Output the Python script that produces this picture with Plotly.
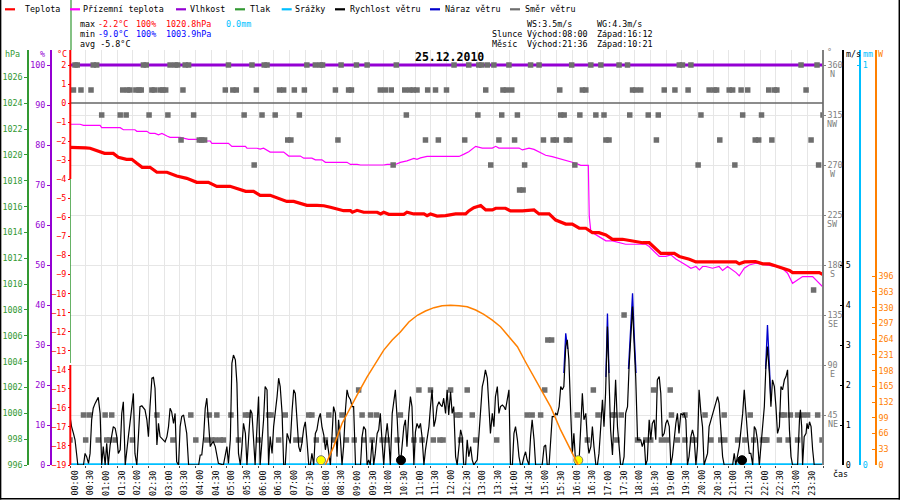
import plotly.graph_objects as go

# ---------------- data (time in hours of 25.12.2010) ----------------
temp_pts = [(0.0,-2.32),(0.3,-2.32),(0.5,-2.35),(0.64,-2.37),(0.96,-2.55),(1.1,-2.64),(1.38,-2.64),(1.54,-2.84),
    (1.8,-2.95),(1.97,-2.95),(2.13,-3.16),(2.3,-3.37),(2.55,-3.37),(2.77,-3.63),(3.09,-3.63),(3.4,-3.83),(3.72,-3.95),
    (4.04,-4.16),(4.41,-4.16),(4.68,-4.37),(5.1,-4.37),(5.35,-4.5),(5.6,-4.63),(5.85,-4.63),(6.06,-4.84),(6.38,-4.84),
    (6.54,-4.95),(6.91,-5.16),(7.13,-5.16),(7.34,-5.26),(7.55,-5.37),(7.87,-5.37),(8.09,-5.39),(8.3,-5.47),(8.51,-5.56),
    (8.72,-5.65),(8.94,-5.65),(9.0,-5.73),(9.15,-5.63),(9.36,-5.73),(9.79,-5.73),(9.9,-5.82),(10.0,-5.73),(10.16,-5.84),
    (10.64,-5.84),(10.74,-5.73),(10.96,-5.82),(11.28,-5.82),(11.38,-5.91),(11.49,-5.82),(11.7,-5.93),(11.97,-5.91),
    (12.29,-5.82),(12.61,-5.82),(12.71,-5.66),(12.87,-5.49),(13.09,-5.38),(13.25,-5.61),(13.46,-5.61),(13.57,-5.52),
    (13.88,-5.52),(14.04,-5.66),(14.42,-5.66),(14.63,-5.61),(14.79,-5.61),(14.95,-5.82),(15.27,-5.82),(15.48,-6.14),
    (15.8,-6.35),(16.01,-6.35),(16.23,-6.57),(16.44,-6.57),(16.65,-6.8),(16.86,-6.8),(17.08,-6.92),(17.29,-7.15),
    (17.61,-7.15),(17.93,-7.24),(18.25,-7.33),(18.46,-7.33),(18.67,-7.66),(18.83,-7.89),(19.26,-7.89),(19.42,-8.05),
    (19.74,-8.2),(19.95,-8.34),(21.23,-8.34),(21.33,-8.44),(21.5,-8.34),(21.65,-8.34),(21.85,-8.32),(22.08,-8.44),
    (22.29,-8.44),(22.5,-8.55),(22.71,-8.67),(22.93,-8.79),(23.03,-8.9),(23.88,-8.9),(24.0,-9.0)]

ground_pts = [(0.0,-1.11),(0.32,-1.11),(0.43,-1.17),(0.96,-1.17),(1.01,-1.29),(1.6,-1.29),(1.7,-1.4),(2.07,-1.4),
    (2.13,-1.48),(2.45,-1.48),(2.55,-1.59),(2.71,-1.59),(2.82,-1.67),(2.93,-1.59),(3.09,-1.73),(3.19,-1.8),(3.51,-1.8),
    (3.78,-1.9),(4.04,-1.9),(4.26,-1.99),(4.47,-1.99),(4.52,-2.11),(5.05,-2.11),(5.16,-2.27),(5.59,-2.27),(5.64,-2.37),
    (5.96,-2.37),(6.06,-2.42),(6.17,-2.37),(6.38,-2.57),(6.81,-2.57),(6.97,-2.78),(7.34,-2.78),(7.45,-2.89),(7.71,-2.89),
    (7.82,-2.98),(8.03,-2.98),(8.14,-3.11),(8.83,-3.11),(8.94,-3.22),(9.15,-3.22),(9.26,-3.25),(10.0,-3.25),(10.11,-3.22),
    (10.37,-3.22),(10.53,-3.11),(10.74,-3.03),(10.96,-2.9),(11.06,-2.95),(11.17,-2.88),(11.38,-2.8),(12.4,-2.8),
    (12.56,-2.68),(12.71,-2.55),(12.93,-2.27),(13.14,-2.36),(13.46,-2.36),(13.57,-2.27),(13.67,-2.36),(14.31,-2.36),
    (14.42,-2.46),(14.63,-2.37),(14.79,-2.43),(15.0,-2.6),(15.16,-2.74),(15.37,-2.81),(15.64,-2.93),(15.91,-3.06),
    (16.12,-3.16),(16.28,-3.27),(16.52,-3.27),(16.55,-5.95),(16.6,-6.75),(16.86,-7.01),(17.08,-7.23),(17.29,-7.23),
    (17.5,-7.32),(17.71,-7.41),(18.35,-7.41),(18.46,-7.53),(18.62,-7.79),(18.78,-8.05),(18.99,-8.05),(19.15,-7.97),
    (19.31,-8.18),(19.47,-8.32),(19.63,-8.5),(19.79,-8.67),(19.95,-8.58),(20.06,-8.76),(20.16,-8.58),(20.27,-8.58),
    (20.48,-8.67),(20.69,-8.58),(20.8,-8.79),(20.96,-8.58),(21.12,-8.76),(21.23,-8.9),(21.33,-9.07),(21.49,-8.67),
    (21.65,-8.5),(21.86,-8.41),(22.18,-8.5),(22.5,-8.58),(22.71,-8.69),(22.87,-8.93),(23.03,-9.46),(23.19,-9.28),
    (23.35,-9.11),(23.67,-9.11),(23.83,-9.37),(23.99,-9.64)]

hum_t = [0.0, 24.0]
hum_v = [100, 100]
rain_t = [0.0, 24.0]
rain_v = [0.0, 0.0]
press_t = [0.0, 0.0]          # pressure only appears as a vertical stroke at midnight
press_v = [1003.9, 1020.8]

wind_pts = [(0.0,1.21),(0.05,0.96),(0.11,0.79),(0.16,0.63),(0.25,0),(0.43,0),(0.48,0.29),(0.53,0.21),(0.59,0.04),
    (0.64,0.29),(0.69,1.13),(0.74,1.42),(0.8,1.54),(0.85,1.63),(0.9,1.69),(0.96,1.29),(1.01,0),(1.06,0.46),(1.12,0),
    (1.17,0.54),(1.22,0),(1.28,0.5),(1.33,0.79),(1.38,0.96),(1.44,0.92),(1.49,0.71),(1.54,0.29),(1.6,0.38),(1.65,1.29),
    (1.7,1.58),(1.76,0),(1.81,0.29),(1.86,0.71),(1.91,1.04),(1.97,1.54),(2.02,1.79),(2.07,0.29),(2.13,0),(2.18,0.71),
    (2.23,1.46),(2.29,1.48),(2.39,1.38),(2.45,1.13),(2.5,0.71),(2.55,1.46),(2.61,2.17),(2.66,2.19),(2.71,1.92),(2.77,0.5),
    (2.82,1.04),(2.87,0.71),(2.98,0.63),(3.03,0.58),(3.09,0.71),(3.14,0.96),(3.19,1.42),(3.24,1.33),(3.3,1.04),(3.35,1.29),
    (3.4,0.08),(3.46,0),(3.51,0.96),(3.56,1.21),(3.62,1.25),(3.67,1.04),(3.72,0.79),(3.78,0),(4.1,0),(4.15,0.25),
    (4.2,0.25),(4.26,0.71),(4.31,1.42),(4.36,1.67),(4.41,1.13),(4.47,0.46),(4.52,0.54),(4.57,0.58),(4.63,0.46),
    (4.68,0.29),(4.73,0.04),(4.89,0),(4.95,0.25),(5.0,0.46),(5.05,0.04),(5.11,0.63),(5.16,2.54),(5.21,2.75),(5.27,2.63),
    (5.32,2.04),(5.37,0.29),(5.43,0),(5.48,0.46),(5.53,1.04),(5.59,0.79),(5.64,0),(5.69,0.63),
    (5.75,1.38),(5.8,1.29),(5.85,0.63),(5.9,0),(5.96,0.96),(6.01,1.71),(6.06,0),(6.17,1.13),(6.22,1.96),(6.28,1.88),
    (6.33,0),(6.38,0.71),(6.44,0.29),(6.49,0.96),(6.6,1.71),(6.65,2.17),(6.7,1.96),(6.76,1.29),(6.81,0),(6.86,0),
    (6.92,0.79),(6.97,0.63),(7.02,0.54),(7.08,1.38),(7.13,1.88),(7.18,1.79),(7.23,1.21),(7.29,0.46),(7.34,0.33),
    (7.39,0.54),(7.45,0.92),(7.5,1.08),(7.55,0.63),(7.61,0),(7.66,0),(7.71,0.29),(7.77,0),(7.82,0.79),(7.87,0.88),
    (7.93,1.17),(7.98,1.29),(8.03,0.96),(8.09,0.75),(8.14,0.38),(8.19,0.63),(8.25,0.29),(8.3,0),(8.35,0.71),(8.4,1.46),
    (8.46,1.29),(8.51,0.21),(8.56,1.13),(8.62,0.63),(8.67,0),(8.72,0.46),(8.78,1.38),(8.83,1.88),(8.88,1.71),(8.94,1.63),
    (8.99,1.46),(9.04,1.46),(9.1,0),(9.26,0),(9.31,0.71),(9.36,0.96),(9.42,0.88),(9.47,0),(9.52,0.13),(9.57,0),
    (9.63,0.63),(9.68,0),(9.73,0.29),(9.79,0.79),(9.84,0.88),(9.89,1.29),(9.95,0.54),(10.0,0),(10.05,0.63),(10.11,1.04),
    (10.16,0.63),(10.21,0),(10.27,1.29),(10.32,1.63),(10.37,1.88),(10.43,1.13),(10.48,0.29),(10.53,0),(10.59,0.46),
    (10.64,0.96),(10.69,1.13),(10.74,0.46),(10.8,1.29),(10.85,1.71),(10.9,1.46),(10.96,0),(11.01,0.83),(11.06,1.04),
    (11.12,0.92),(11.17,1.04),(11.22,0.71),(11.28,0),(11.33,0.38),(11.38,0.71),(11.44,0.96),(11.49,1.46),(11.54,1.88),
    (11.6,0.96),(11.65,1.13),(11.7,1.46),(11.76,1.58),(11.81,1.5),(11.86,1.46),(11.91,1.67),(11.97,1.29),(12.02,1.88),
    (12.07,1.25),(12.13,1.83),(12.18,1.29),(12.23,1.46),(12.29,0.21),(12.34,0),(12.39,0.46),(12.45,0.88),(12.5,0.71),
    (12.55,0),(12.61,0),(12.66,0.63),(12.71,0.21),(12.77,0.46),(12.82,0.13),(12.87,0),(12.98,0.13),(13.03,0.79),
    (13.09,1.46),(13.14,1.96),(13.19,2.13),(13.24,2.38),(13.3,2.17),(13.35,1.29),(13.4,0.79),(13.46,1.29),(13.51,0.96),
    (13.56,1.71),(13.62,1.96),(13.67,1.29),(13.72,1.46),(13.78,1.5),(13.83,1.46),(13.88,1.38),(13.94,1.71),(13.99,1.88),
    (14.04,0),(14.1,0),(14.15,0.79),(14.2,0.96),(14.26,0.63),(14.31,0.21),(14.36,0),(14.41,0),(14.47,0.21),(14.52,0.33),
    (14.57,0.13),(14.63,0),(14.68,0.71),(14.73,1.13),(14.79,0.63),(14.84,0),(15.05,0),
    (15.11,0.46),(15.16,0.5),(15.21,0),(15.27,0),(15.32,0.63),(15.37,1.21),(15.43,1.21),(15.48,1.29),(15.53,1.25),
    (15.59,1.46),(15.64,1.96),(15.69,1.88),(15.74,1.96),(15.8,2.96),(15.85,3.13),(15.9,2.63),(15.96,1.29),(16.01,0.29),
    (16.06,0.79),(16.12,0),(16.22,0),(16.28,1.13),(16.33,1.79),(16.38,1.13),(16.44,1.29),(16.49,0.63),(16.54,0.29),
    (16.6,0.46),(16.65,0.96),(16.7,0.46),(16.76,0),(16.81,0),(16.86,0.29),(16.91,0.88),(16.97,1.63),(17.02,0.96),
    (17.07,1.79),(17.13,3.46),(17.18,2.13),(17.23,0.88),(17.29,0.25),(17.34,1.13),(17.39,2.13),(17.45,0.96),(17.5,0.46),
    (17.55,0),(17.61,0),(17.66,0.21),(17.71,1.29),(17.77,1.46),(17.82,2.46),(17.87,3.04),(17.93,3.96),(17.98,3.04),
    (18.03,2.21),(18.09,0.63),(18.19,0.63),(18.24,0.46),(18.3,0.63),(18.35,0),(18.4,0.13),(18.46,1.13),(18.51,0.63),
    (18.56,1.04),(18.62,1.13),(18.67,0.63),(18.72,2.13),(18.78,2.21),(18.83,1.79),(18.88,0.71),(18.94,0.79),(18.99,1.04),
    (19.04,1.13),(19.1,0.96),(19.15,0),(19.2,0.21),(19.26,0.71),(19.31,1.04),(19.36,1.29),(19.41,0.79),(19.47,1.29),
    (19.52,1.25),(19.57,1.29),(19.63,1.13),(19.68,0),(19.73,0.21),(19.79,0.71),(19.84,0.88),(19.89,0.71),(19.95,0),
    (20.0,0.46),(20.05,1.88),(20.11,1.29),(20.16,0.96),(20.21,0),(20.27,0.13),(20.32,0.29),(20.37,0.96),(20.43,1.13),
    (20.48,1.29),(20.53,1.46),(20.59,1.63),(20.64,1.71),(20.69,1.54),(20.74,0.79),(20.8,0.21),(20.85,0),(21.12,0),
    (21.17,0.29),(21.22,0),(21.33,0.46),(21.38,0.79),(21.44,1.29),(21.49,1.88),(21.54,1.29),(21.6,0.71),(21.65,0.29),
    (21.7,0.29),(21.76,0),(21.81,0.96),(21.86,0.88),(21.91,0.63),(21.97,0),(22.02,0.46),(22.07,1.04),(22.13,1.46),
    (22.18,2.46),(22.23,2.96),(22.29,2.29),(22.34,1.46),(22.39,2.13),(22.45,1.96),(22.5,1.46),(22.55,0.79),(22.61,0.96),
    (22.66,1.96),(22.71,1.88),(22.77,2.13),(22.82,2.21),(22.87,2.38),(22.93,0.88),(22.98,0.21),(23.03,0),(23.19,0),
    (23.25,1.13),(23.28,1.38),(23.32,0.96),(23.35,0),(23.4,0.71),(23.46,0.79),(23.49,1.04),(23.53,0.9),(23.57,1.08),
    (23.62,0.96),(23.67,0.38),(23.72,0),(24.0,0)]

gust_t = [15.74, 15.8, 15.86, None, 17.08, 17.13, 17.18, None, 17.8, 17.87, 17.93, 17.98, 18.04, None,
          22.17, 22.23, 22.29, 22.34]
gust_v = [2.3, 3.29, 2.9, None, 2.2, 3.79, 2.3, None, 2.4, 3.6, 4.29, 3.3, 2.3, None,
          2.4, 3.5, 2.5, 1.6]

solar_t = [8.14, 8.4, 8.67, 8.94, 9.2, 9.47, 9.73, 10.0, 10.27, 10.53, 10.8, 11.07, 11.33, 11.6, 11.86, 12.13,
           12.4, 12.66, 12.93, 13.19, 13.46, 13.72, 13.99, 14.26, 14.52, 14.79, 15.06, 15.32, 15.64, 15.96, 16.12, 16.2]
solar_v = [0, 38, 87, 122, 153, 185, 213, 241, 262, 279, 300, 314, 323, 330, 334, 335,
           334, 332, 325, 316, 304, 290, 269, 248, 216, 185, 153, 122, 73, 31, 10, 0]

# wind direction samples, grouped by direction (degrees) -> times (h)
wd_360 = [0.16, 0.23, 0.74, 0.85, 2.34, 2.43, 3.19, 3.35, 3.43, 3.67, 3.78, 5.05, 5.8, 6.19, 6.28, 7.55, 7.82,
          7.98, 8.05, 8.64, 9.13, 9.47, 10.4, 12.24, 12.71, 13.03, 13.12, 13.3, 13.51, 13.99, 14.68, 14.95, 15.99,
          16.6, 16.92, 17.5, 17.77, 19.42, 19.52, 19.79, 23.3, 23.81]
wd_337 = [0.11, 0.35, 0.67, 1.68, 1.83, 1.91, 2.1, 2.2, 2.27, 2.61, 2.69, 2.87, 2.96, 3.05, 3.6, 4.95, 5.19, 5.3,
          5.94, 6.68, 6.81, 7.15, 7.47, 8.46, 8.88, 8.97, 9.89, 10.05, 10.24, 10.67, 10.83, 10.94, 11.06, 11.4,
          11.65, 12.0, 13.25, 13.8, 13.91, 14.08, 15.61, 16.33, 16.44, 17.93, 18.03, 18.19, 18.94, 19.28, 19.7,
          20.37, 20.53, 20.61, 21.01, 21.12, 21.39, 21.6, 22.27, 22.45, 22.53, 23.46]
wd_315 = [1.01, 1.6, 1.79, 2.52, 3.12, 3.94, 5.55, 6.12, 6.54, 7.31, 10.72, 13.0, 13.76, 14.26, 15.64, 15.75,
          16.25, 16.76, 17.02, 17.84, 18.43, 18.75, 20.11, 21.44, 22.04, 24.0]
wd_292 = [3.54, 4.12, 4.2, 4.29, 6.94, 7.04, 8.54, 11.33, 11.74, 12.58, 13.67, 14.17, 15.09, 15.4, 15.5, 15.82,
          15.93, 17.08, 17.18, 18.69, 20.71, 21.84, 21.95, 22.37, 23.62]
wd_270 = [5.87, 10.3, 13.41, 14.49, 16.09, 20.02, 21.19, 23.86]
wd_247 = [14.33, 14.44]
wd_157 = [23.7]
wd_135 = [17.66]
wd_112 = [15.23, 15.35]
wd_67 = [9.2, 11.12, 11.49, 12.13, 12.66, 15.13, 16.68, 18.6, 19.13]
wd_45 = [0.43, 0.61, 1.12, 1.33, 2.77, 3.85, 4.44, 4.68, 5.13, 5.59, 5.69, 6.33, 6.41, 6.86, 7.61, 7.71, 8.25,
         8.67, 9.31, 9.58, 9.77, 10.53, 12.34, 12.43, 12.82, 14.57, 14.73, 15.0, 16.17, 16.83, 17.29, 17.36, 17.57,
         19.17, 19.6, 20.24, 20.85, 21.68, 22.68, 22.77, 22.96, 23.19, 23.35, 23.51, 23.83]
wd_22 = [0.0, 0.5, 0.9, 1.17, 1.26, 1.44, 1.99, 3.28, 4.01, 4.36, 4.52, 4.63, 4.79, 4.89, 5.37, 6.01, 6.65, 7.2,
         7.34, 7.85, 8.14, 8.4, 8.81, 9.06, 9.36, 9.63, 9.95, 10.11, 10.43, 10.96, 11.22, 11.58, 11.79, 11.89, 12.45,
         12.93, 13.6, 16.49, 17.43, 18.09, 18.35, 18.51, 18.85, 19.02, 19.36, 19.6, 19.84, 19.91, 20.43, 20.74,
         20.87, 21.28, 21.51, 21.79, 22.07, 22.15, 22.21, 22.61, 22.89, 23.19, 23.97]

sun_t = [8.0, 16.2]        # sunrise / sunset markers
moon_t = [10.55, 21.42]    # moon markers
marker_level = [0.12, 0.12]

time_labels = ["00:00","00:30","01:00","01:30","02:00","02:30","03:00","03:30","04:00","04:30","05:00","05:30",
               "06:00","06:30","07:00","07:30","08:00","08:30","09:00","09:30","10:00","10:30","11:00","11:30",
               "12:00","12:30","13:00","13:30","14:00","14:30","15:00","15:30","16:00","16:30","17:00","17:30",
               "18:00","18:30","19:00","19:30","20:00","20:30","21:00","21:30","22:00","22:30","23:00","23:30"]
time_ticks = [0.0,0.5,1.0,1.5,2.0,2.5,3.0,3.5,4.0,4.5,5.0,5.5,6.0,6.5,7.0,7.5,8.0,8.5,9.0,9.5,10.0,10.5,11.0,11.5,
              12.0,12.5,13.0,13.5,14.0,14.5,15.0,15.5,16.0,16.5,17.0,17.5,18.0,18.5,19.0,19.5,20.0,20.5,21.0,21.5,
              22.0,22.5,23.0,23.5,24.0]
temp_ticks = [2,1,0,-1,-2,-3,-4,-5,-6,-7,-8,-9,-10,-11,-12,-13,-14,-15,-16,-17,-18,-19]
hum_ticks = [0,10,20,30,40,50,60,70,80,90,100]
press_ticks = [996,998,1000,1002,1004,1006,1008,1010,1012,1014,1016,1018,1020,1022,1024,1026]
dir_ticks = [45,90,135,180,225,270,315,360]
dir_names = ["NE","E","SE","S","SW","W","NW","N"]
ms_ticks = [0,1,2,3,4,5]
mm_ticks = [0,1]
w_ticks = [0,33,66,99,132,165,198,231,264,297,330,363,396]

# ---------------- styling / geometry ----------------
MONO = "DejaVu Sans Mono"
FS = 8.4
RED = "#FF0000"; MAG = "#FF00FF"; PUR = "#9400D3"; GRN = "#339933"; CYAN = "#00BFFF"
BLUE = "#0000CC"; GREY = "#6E6E6E"; ORANGE = "#FF8000"; GRID = "#E6E6E6"

WIDTH, HEIGHT = 900, 500
ML, MR, MT, MB = 28, 24, 50, 35
AW = WIDTH - ML - MR
AH = HEIGHT - MT - MB

def pxx(px):
    return (px - ML) / AW

def pxy(py):
    return (HEIGHT - MB - py) / AH

X0, X1 = pxx(70), pxx(823)
T_PPU = 19.05; H_PPU = 4.0; P_PPU = 12.92; D_PPU = 50 / 45; MS_PPU = 40; MM_PPU = 400; W_PPU = 0.4768

def unzip(pts):
    return [p[0] for p in pts], [p[1] for p in pts]

temp_t, temp_v = unzip(temp_pts)
ground_t, ground_v = unzip(ground_pts)
wind_t, wind_v = unzip(wind_pts)

fig = go.Figure()

fig.add_trace(go.Scatter(x=ground_t, y=ground_v, mode="lines", line=dict(color=MAG, width=1.2), yaxis="y"))
fig.add_trace(go.Scatter(x=temp_t, y=temp_v, mode="lines", line=dict(color=RED, width=3.2), yaxis="y"))
fig.add_trace(go.Scatter(x=hum_t, y=hum_v, mode="lines", line=dict(color=PUR, width=3), yaxis="y2"))
fig.add_trace(go.Scatter(x=press_t, y=press_v, mode="lines", line=dict(color=GRN, width=1.5), yaxis="y3",
                         cliponaxis=False))
dir_groups = [(360, wd_360), (337.5, wd_337), (315, wd_315), (292.5, wd_292), (270, wd_270), (247.5, wd_247),
              (157.5, wd_157), (135, wd_135), (112.5, wd_112), (67.5, wd_67), (45, wd_45), (22.5, wd_22)]
dx, dy = [], []
for deg, times in dir_groups:
    dx += times
    dy += [deg] * len(times)
fig.add_trace(go.Scatter(x=dx, y=dy, mode="markers", yaxis="y4",
                         marker=dict(symbol="square", size=5.5, color=GREY, line=dict(width=0))))
fig.add_trace(go.Scatter(x=rain_t, y=rain_v, mode="lines", line=dict(color=CYAN, width=3.5), yaxis="y5"))
fig.add_trace(go.Scatter(x=gust_t, y=gust_v, mode="lines", line=dict(color=BLUE, width=1.3), yaxis="y6",
                         connectgaps=False))
fig.add_trace(go.Scatter(x=wind_t, y=wind_v, mode="lines", line=dict(color="black", width=1.2), yaxis="y6"))
fig.add_trace(go.Scatter(x=sun_t, y=marker_level, mode="markers", yaxis="y6",
                         marker=dict(size=9, color="#FFFF00", line=dict(color="#777777", width=1))))
fig.add_trace(go.Scatter(x=moon_t, y=marker_level, mode="markers", yaxis="y6",
                         marker=dict(size=9, color="black", line=dict(color="black", width=1))))
fig.add_trace(go.Scatter(x=solar_t, y=solar_v, mode="lines", line=dict(color=ORANGE, width=1.5), yaxis="y7"))

tickfont = lambda c: dict(family=MONO, size=FS, color=c)

def left_axis(rng, ticks, color, pos, ticklen, overlay=True, showline=True):
    d = dict(range=rng, tickvals=ticks, tickfont=tickfont(color), anchor="free", position=pos, side="left",
             showgrid=False, zeroline=False, ticks="outside", ticklen=ticklen, tickcolor=color,
             showline=showline, linecolor=color, linewidth=1.5, automargin=False)
    if overlay:
        d["overlaying"] = "y"
    else:
        d["domain"] = [0, 1]
    return d

def right_axis(rng, ticks, color, pos, text=None, grid=False, ticks_dir="inside", ticklen=3):
    d = dict(range=rng, tickvals=ticks, tickfont=tickfont(color), anchor="free", position=pos, side="right",
             overlaying="y", showgrid=grid, gridcolor=GRID, gridwidth=1, zeroline=False,
             ticks=ticks_dir, ticklen=ticklen, tickcolor=color, showline=True, linecolor=color, linewidth=1.5,
             automargin=False)
    if text is not None:
        d["ticktext"] = text
    return d

fig.update_layout(
    width=WIDTH, height=HEIGHT, autosize=False,
    margin=dict(l=ML, r=MR, t=MT, b=MB, pad=0, autoexpand=False),
    paper_bgcolor="white", plot_bgcolor="white", showlegend=False, hovermode=False,
    xaxis=dict(domain=[X0, X1], range=[0, 24], tickvals=time_ticks, showticklabels=False, showgrid=True,
               gridcolor=GRID, gridwidth=1, zeroline=False, ticks="outside", ticklen=2, tickcolor="#444",
               showline=False, anchor="y", automargin=False),
    yaxis=left_axis([-19, 2 + 15 / T_PPU], temp_ticks, RED, X0, 2, overlay=False, showline=False),
    yaxis2=left_axis([0, 100 + 15 / H_PPU], hum_ticks, PUR, pxx(50.7), 3),
    yaxis3=left_axis([996, 996 + AH / P_PPU], press_ticks, GRN, 0.0, 3),
    yaxis4=right_axis([0, 360 + 15 / D_PPU], dir_ticks, "#808080", X1, text=[str(v) for v in dir_ticks],
                      grid=True, ticks_dir="outside", ticklen=2),
    yaxis5=right_axis([0, AH / MM_PPU], mm_ticks, CYAN, pxx(860.3)),
    yaxis6=right_axis([0, AH / MS_PPU], ms_ticks, "black", pxx(843.3)),
    yaxis7=right_axis([0, AH / W_PPU], w_ticks, ORANGE, 1.0),
)

shapes = []
def pline(x0, y0, x1, y1, color, width):
    shapes.append(dict(type="line", xref="paper", yref="paper", x0=pxx(x0), y0=pxy(y0), x1=pxx(x1), y1=pxy(y1),
                       line=dict(color=color, width=width), layer="above"))

# 0 degC line
shapes.append(dict(type="line", xref="x", yref="y", x0=0, x1=24, y0=0, y1=0,
                   line=dict(color="#666666", width=1.5), layer="above"))
# temperature axis line (red), partly hidden by the green pressure stroke
pline(71, 0, 71, 50, GRN, 1.2)
pline(70.3, 50, 70.3, 179, RED, 2)
pline(70.3, 365, 70.3, 465, RED, 2)
# outer border
pline(0.6, 0, 0.6, 499.5, "black", 1.5)
pline(899.3, 0, 899.3, 499.5, "black", 1.5)
pline(0, 498.8, 900, 498.8, "black", 1.5)

ann = []
def txt(s, px, py, color="black", anchor="left", size=FS, bold=False, angle=0):
    ann.append(dict(text=(f"<b>{s}</b>" if bold else s), x=pxx(px), y=pxy(py), xref="paper", yref="paper",
                    xanchor=anchor, yanchor="middle", showarrow=False, borderpad=0, borderwidth=0,
                    textangle=angle, font=dict(family=MONO, size=size, color=color)))

legend = [("Teplota", RED, 5, 25), ("Přízemní teplota", MAG, 70, 83.3), ("Vlhkost", PUR, 176, 190),
          ("Tlak", GRN, 235, 250), ("Srážky", CYAN, 281.7, 295), ("Rychlost větru", "black", 335, 350),
          ("Náraz větru", BLUE, 430, 445), ("Směr větru", GREY, 510, 525)]
for name, col, dash_x, text_x in legend:
    pline(dash_x, 9.3, dash_x + 10, 9.3, col, 2.2)
    txt(name, text_x, 9.5)

txt("max", 80, 24.3); txt("-2.2°C", 97.5, 24.3, RED); txt("100%", 136, 24.3, RED)
txt("1020.8hPa", 166, 24.3, RED); txt("0.0mm", 226, 24.3, CYAN)
txt("min", 80, 34.3); txt("-9.0°C", 97.5, 34.3, "#0000FF"); txt("100%", 136, 34.3, "#0000FF")
txt("1003.9hPa", 166, 34.3, "#0000FF")
txt("avg -5.8°C", 80, 44)
txt("WS:3.5m/s", 526.7, 24.3); txt("WG:4.3m/s", 596.7, 24.3)
txt("Slunce", 491.7, 34.3); txt("Východ:08:00", 526.7, 34.3); txt("Západ:16:12", 596.7, 34.3)
txt("Měsíc", 491.7, 44); txt("Východ:21:36", 526.7, 44); txt("Západ:10:21", 596.7, 44)

txt("25.12.2010", 449.5, 57, size=11.5, bold=True, anchor="center")

txt("hPa", 4.5, 54, GRN); txt("%", 42.5, 54, PUR, anchor="center"); txt("°C", 57, 54, RED)
txt("°", 827, 51.5, "#808080"); txt("m/s", 845.5, 54); txt("mm", 862.5, 54, CYAN); txt("W", 877.5, 54, ORANGE)

for deg, name in zip(dir_ticks, dir_names):
    ann.append(dict(text=name, x=pxx(832.5), y=deg, xref="paper", yref="y4", yshift=-9, xanchor="center",
                    yanchor="middle", showarrow=False, borderpad=0, borderwidth=0,
                    font=dict(family=MONO, size=FS, color="#808080")))

for t, lab in zip(time_ticks, time_labels):
    ann.append(dict(text=lab, x=t, xref="x", xshift=4.5, y=pxy(483), yref="paper", xanchor="center",
                    yanchor="middle", textangle=-90, showarrow=False, borderpad=0, borderwidth=0,
                    font=dict(family=MONO, size=FS, color="black")))
txt("čas", 840, 473.5, anchor="center")

fig.update_layout(shapes=shapes, annotations=ann)
fig.write_html("out.html", config={"displayModeBar": False},
               post_script="document.body.style.margin='0';document.body.style.padding='0';")
